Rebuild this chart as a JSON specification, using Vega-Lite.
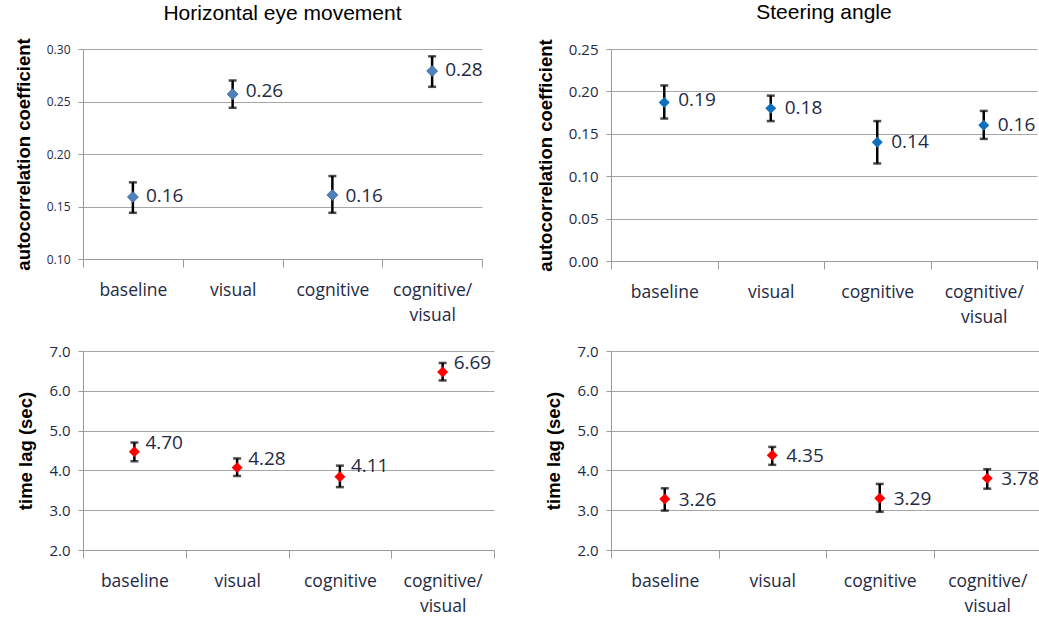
{
  "$schema": "https://vega.github.io/schema/vega-lite/v6.json",
  "background": "white",
  "padding": {"left": 14, "top": 1, "right": 0, "bottom": 0},
  "columns": 2,
  "spacing": {"column": 41, "row": 18},
  "align": "each",
  "data": {"values": [
    {"panel": "eye_r", "condition": "baseline", "mean": 0.159, "lo": 0.144, "hi": 0.173, "label": 0.16},
    {"panel": "eye_r", "condition": "visual", "mean": 0.257, "lo": 0.244, "hi": 0.27, "label": 0.26},
    {"panel": "eye_r", "condition": "cognitive", "mean": 0.161, "lo": 0.144, "hi": 0.179, "label": 0.16},
    {"panel": "eye_r", "condition": "cognitive/visual", "mean": 0.279, "lo": 0.264, "hi": 0.293, "label": 0.28},
    {"panel": "steer_r", "condition": "baseline", "mean": 0.187, "lo": 0.168, "hi": 0.207, "label": 0.19},
    {"panel": "steer_r", "condition": "visual", "mean": 0.18, "lo": 0.165, "hi": 0.195, "label": 0.18},
    {"panel": "steer_r", "condition": "cognitive", "mean": 0.14, "lo": 0.115, "hi": 0.165, "label": 0.14},
    {"panel": "steer_r", "condition": "cognitive/visual", "mean": 0.16, "lo": 0.144, "hi": 0.177, "label": 0.16},
    {"panel": "eye_lag", "condition": "baseline", "mean": 4.47, "lo": 4.23, "hi": 4.7, "label": 4.70},
    {"panel": "eye_lag", "condition": "visual", "mean": 4.07, "lo": 3.86, "hi": 4.3, "label": 4.28},
    {"panel": "eye_lag", "condition": "cognitive", "mean": 3.84, "lo": 3.58, "hi": 4.12, "label": 4.11},
    {"panel": "eye_lag", "condition": "cognitive/visual", "mean": 6.47, "lo": 6.26, "hi": 6.7, "label": 6.69},
    {"panel": "steer_lag", "condition": "baseline", "mean": 3.28, "lo": 2.99, "hi": 3.55, "label": 3.26},
    {"panel": "steer_lag", "condition": "visual", "mean": 4.38, "lo": 4.14, "hi": 4.59, "label": 4.35},
    {"panel": "steer_lag", "condition": "cognitive", "mean": 3.3, "lo": 2.96, "hi": 3.66, "label": 3.29},
    {"panel": "steer_lag", "condition": "cognitive/visual", "mean": 3.8, "lo": 3.54, "hi": 4.03, "label": 3.78}
  ]},
  "concat": [
    {
      "width": 399, "height": 210,
      "title": {"text": "Horizontal eye movement", "offset": 14},
      "transform": [{"filter": "datum.panel == 'eye_r'"}],
      "encoding": {"x": {"field": "condition", "type": "nominal", "sort": ["baseline", "visual", "cognitive", "cognitive/visual"], "title": null, "scale": {"paddingInner": 0, "paddingOuter": 0}}},
      "layer": [
        {"mark": {"type": "rule", "color": "black", "strokeWidth": 2.5},
         "encoding": {"y": {"field": "lo", "type": "quantitative", "title": "autocorrelation coefficient", "scale": {"domain": [0.1, 0.3], "nice": false, "zero": false}, "axis": {"values": [0.1, 0.15, 0.2, 0.25, 0.3], "format": ".2f", "labelFontSize": 12}}, "y2": {"field": "hi"}}},
        {"mark": {"type": "tick", "color": "black", "size": 8, "thickness": 2.5}, "encoding": {"y": {"field": "lo", "type": "quantitative", "title": "autocorrelation coefficient", "scale": {"domain": [0.1, 0.3], "nice": false, "zero": false}, "axis": {"values": [0.1, 0.15, 0.2, 0.25, 0.3], "format": ".2f", "labelFontSize": 12}}}},
        {"mark": {"type": "tick", "color": "black", "size": 8, "thickness": 2.5}, "encoding": {"y": {"field": "hi", "type": "quantitative", "title": "autocorrelation coefficient", "scale": {"domain": [0.1, 0.3], "nice": false, "zero": false}, "axis": {"values": [0.1, 0.15, 0.2, 0.25, 0.3], "format": ".2f", "labelFontSize": 12}}}},
        {"mark": {"type": "point", "shape": "diamond", "filled": true, "opacity": 1, "size": 120, "color": "#4F81BD", "stroke": "#3a6595", "strokeWidth": 0.8}, "encoding": {"y": {"field": "mean", "type": "quantitative", "title": "autocorrelation coefficient", "scale": {"domain": [0.1, 0.3], "nice": false, "zero": false}, "axis": {"values": [0.1, 0.15, 0.2, 0.25, 0.3], "format": ".2f", "labelFontSize": 12}}}},
        {"mark": {"type": "text", "align": "left", "baseline": "middle", "dx": 13, "font": "Open Sans", "fontSize": 19, "color": "#1f2a44"}, "encoding": {"y": {"field": "label", "type": "quantitative", "title": "autocorrelation coefficient", "scale": {"domain": [0.1, 0.3], "nice": false, "zero": false}, "axis": {"values": [0.1, 0.15, 0.2, 0.25, 0.3], "format": ".2f", "labelFontSize": 12}}, "text": {"field": "label", "type": "quantitative", "format": ".2f"}}}
      ]
    },
    {
      "width": 426, "height": 212,
      "title": {"text": "Steering angle", "offset": 16},
      "transform": [{"filter": "datum.panel == 'steer_r'"}],
      "encoding": {"x": {"field": "condition", "type": "nominal", "sort": ["baseline", "visual", "cognitive", "cognitive/visual"], "title": null, "scale": {"paddingInner": 0, "paddingOuter": 0}}},
      "layer": [
        {"mark": {"type": "rule", "color": "black", "strokeWidth": 2.5},
         "encoding": {"y": {"field": "lo", "type": "quantitative", "title": "autocorrelation coefficient", "scale": {"domain": [0, 0.25], "nice": false}, "axis": {"values": [0, 0.05, 0.1, 0.15, 0.2, 0.25], "format": ".2f"}}, "y2": {"field": "hi"}}},
        {"mark": {"type": "tick", "color": "black", "size": 8, "thickness": 2.5}, "encoding": {"y": {"field": "lo", "type": "quantitative", "title": "autocorrelation coefficient", "scale": {"domain": [0, 0.25], "nice": false}, "axis": {"values": [0, 0.05, 0.1, 0.15, 0.2, 0.25], "format": ".2f"}}}},
        {"mark": {"type": "tick", "color": "black", "size": 8, "thickness": 2.5}, "encoding": {"y": {"field": "hi", "type": "quantitative", "title": "autocorrelation coefficient", "scale": {"domain": [0, 0.25], "nice": false}, "axis": {"values": [0, 0.05, 0.1, 0.15, 0.2, 0.25], "format": ".2f"}}}},
        {"mark": {"type": "point", "shape": "diamond", "filled": true, "opacity": 1, "size": 120, "color": "#0f6fba"}, "encoding": {"y": {"field": "mean", "type": "quantitative", "title": "autocorrelation coefficient", "scale": {"domain": [0, 0.25], "nice": false}, "axis": {"values": [0, 0.05, 0.1, 0.15, 0.2, 0.25], "format": ".2f"}}}},
        {"mark": {"type": "text", "align": "left", "baseline": "middle", "dx": 14, "font": "Open Sans", "fontSize": 19, "color": "#1f2a44"}, "encoding": {"y": {"field": "label", "type": "quantitative", "title": "autocorrelation coefficient", "scale": {"domain": [0, 0.25], "nice": false}, "axis": {"values": [0, 0.05, 0.1, 0.15, 0.2, 0.25], "format": ".2f"}}, "text": {"field": "label", "type": "quantitative", "format": ".2f"}}}
      ]
    },
    {
      "width": 411, "height": 199,
      "transform": [{"filter": "datum.panel == 'eye_lag'"}],
      "encoding": {"x": {"field": "condition", "type": "nominal", "sort": ["baseline", "visual", "cognitive", "cognitive/visual"], "title": null, "scale": {"paddingInner": 0, "paddingOuter": 0}}},
      "layer": [
        {"mark": {"type": "rule", "color": "black", "strokeWidth": 2.5},
         "encoding": {"y": {"field": "lo", "type": "quantitative", "title": "time lag (sec)", "scale": {"domain": [2, 7], "nice": false, "zero": false}, "axis": {"values": [2, 3, 4, 5, 6, 7], "format": ".1f"}}, "y2": {"field": "hi"}}},
        {"mark": {"type": "tick", "color": "black", "size": 8, "thickness": 2.5}, "encoding": {"y": {"field": "lo", "type": "quantitative", "title": "time lag (sec)", "scale": {"domain": [2, 7], "nice": false, "zero": false}, "axis": {"values": [2, 3, 4, 5, 6, 7], "format": ".1f"}}}},
        {"mark": {"type": "tick", "color": "black", "size": 8, "thickness": 2.5}, "encoding": {"y": {"field": "hi", "type": "quantitative", "title": "time lag (sec)", "scale": {"domain": [2, 7], "nice": false, "zero": false}, "axis": {"values": [2, 3, 4, 5, 6, 7], "format": ".1f"}}}},
        {"mark": {"type": "point", "shape": "diamond", "filled": true, "opacity": 1, "size": 120, "color": "#FF0000"}, "encoding": {"y": {"field": "mean", "type": "quantitative", "title": "time lag (sec)", "scale": {"domain": [2, 7], "nice": false, "zero": false}, "axis": {"values": [2, 3, 4, 5, 6, 7], "format": ".1f"}}}},
        {"mark": {"type": "text", "align": "left", "baseline": "middle", "dx": 11, "font": "Open Sans", "fontSize": 19, "color": "#1f2a44"}, "encoding": {"y": {"field": "label", "type": "quantitative", "title": "time lag (sec)", "scale": {"domain": [2, 7], "nice": false, "zero": false}, "axis": {"values": [2, 3, 4, 5, 6, 7], "format": ".1f"}}, "text": {"field": "label", "type": "quantitative", "format": ".2f"}}}
      ]
    },
    {
      "width": 430, "height": 199,
      "transform": [{"filter": "datum.panel == 'steer_lag'"}],
      "encoding": {"x": {"field": "condition", "type": "nominal", "sort": ["baseline", "visual", "cognitive", "cognitive/visual"], "title": null, "scale": {"paddingInner": 0, "paddingOuter": 0}}},
      "layer": [
        {"mark": {"type": "rule", "color": "black", "strokeWidth": 2.5},
         "encoding": {"y": {"field": "lo", "type": "quantitative", "title": "time lag (sec)", "scale": {"domain": [2, 7], "nice": false, "zero": false}, "axis": {"values": [2, 3, 4, 5, 6, 7], "format": ".1f"}}, "y2": {"field": "hi"}}},
        {"mark": {"type": "tick", "color": "black", "size": 8, "thickness": 2.5}, "encoding": {"y": {"field": "lo", "type": "quantitative", "title": "time lag (sec)", "scale": {"domain": [2, 7], "nice": false, "zero": false}, "axis": {"values": [2, 3, 4, 5, 6, 7], "format": ".1f"}}}},
        {"mark": {"type": "tick", "color": "black", "size": 8, "thickness": 2.5}, "encoding": {"y": {"field": "hi", "type": "quantitative", "title": "time lag (sec)", "scale": {"domain": [2, 7], "nice": false, "zero": false}, "axis": {"values": [2, 3, 4, 5, 6, 7], "format": ".1f"}}}},
        {"mark": {"type": "point", "shape": "diamond", "filled": true, "opacity": 1, "size": 120, "color": "#FF0000"}, "encoding": {"y": {"field": "mean", "type": "quantitative", "title": "time lag (sec)", "scale": {"domain": [2, 7], "nice": false, "zero": false}, "axis": {"values": [2, 3, 4, 5, 6, 7], "format": ".1f"}}}},
        {"mark": {"type": "text", "align": "left", "baseline": "middle", "dx": 14, "font": "Open Sans", "fontSize": 19, "color": "#1f2a44"}, "encoding": {"y": {"field": "label", "type": "quantitative", "title": "time lag (sec)", "scale": {"domain": [2, 7], "nice": false, "zero": false}, "axis": {"values": [2, 3, 4, 5, 6, 7], "format": ".1f"}}, "text": {"field": "label", "type": "quantitative", "format": ".2f"}}}
      ]
    }
  ],
  "config": {
    "view": {"stroke": null},
    "font": "Open Sans",
    "title": {"font": "Liberation Sans", "fontSize": 21, "fontWeight": "normal", "color": "#000000", "anchor": "middle"},
    "axis": {
      "domainColor": "#9a9a9a", "gridColor": "#a6a6a6", "tickColor": "#9a9a9a", "domainWidth": 1, "gridWidth": 1,
      "labelFont": "Open Sans", "labelColor": "#1f2a44",
      "titleFont": "Liberation Sans", "titleFontWeight": "bold", "titleFontSize": 18.5, "titleColor": "#000000"
    },
    "axisY": {"grid": true, "tickSize": 5, "labelFontSize": 15, "labelPadding": 8, "titlePadding": 13},
    "axisX": {"grid": false, "labelAngle": 0, "tickBand": "extent", "tickSize": 8, "labelFontSize": 17.5, "labelPadding": 14, "labelLineHeight": 25,
      "labelExpr": "datum.label == 'cognitive/visual' ? ['cognitive/', 'visual'] : datum.label", "labelBaseline": "top", "domain": true}
  }
}
